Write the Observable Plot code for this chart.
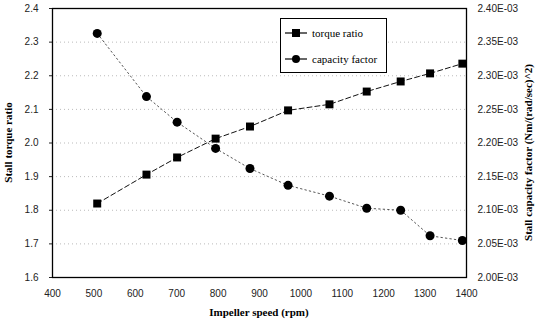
<!DOCTYPE html>
<html>
<head>
<meta charset="utf-8">
<script src="https://cdn.jsdelivr.net/npm/d3@7"></script>
<script src="https://cdn.jsdelivr.net/npm/@observablehq/plot@0.6"></script>
<style>
  html, body { margin: 0; padding: 0; background: #fff; }
  #chart { width: 537px; height: 323px; }
</style>
</head>
<body>
<div id="chart"></div>
<script>
// Data
const rpm = [508, 627, 701, 794, 877, 969, 1069, 1159, 1241, 1312, 1390];
const torqueRatio = [1.820, 1.906, 1.957, 2.013, 2.049, 2.097, 2.115, 2.153, 2.183, 2.207, 2.236];
const capacityFactor = [2.363e-3, 2.269e-3, 2.231e-3, 2.192e-3, 2.162e-3, 2.137e-3, 2.121e-3, 2.103e-3, 2.100e-3, 2.062e-3, 2.055e-3];
const xTicks = [400, 500, 600, 700, 800, 900, 1000, 1100, 1200, 1300, 1400];
const yTicks = [1.6, 1.7, 1.8, 1.9, 2.0, 2.1, 2.2, 2.3, 2.4];
const capTicks = [2.00e-3, 2.05e-3, 2.10e-3, 2.15e-3, 2.20e-3, 2.25e-3, 2.30e-3, 2.35e-3, 2.40e-3];
const seriesNames = ["torque ratio", "capacity factor"];

const W = 537, H = 323;
const mL = 52, mR = 71, mT = 8, mB = 46;

// right axis maps linearly onto left scale: 2.0e-3 -> 1.6, 2.4e-3 -> 2.4
const capToLeft = c => 1.6 + (c - 2.0e-3) / 0.5e-3;

const torque = rpm.map((r, i) => ({rpm: r, v: torqueRatio[i]}));
const cap = rpm.map((r, i) => ({rpm: r, v: capToLeft(capacityFactor[i])}));

const tickFont = "Liberation Sans, Arial, sans-serif";
const titleFont = "Liberation Serif, Times New Roman, serif";

const plot = Plot.plot({
  width: W,
  height: H,
  marginLeft: mL,
  marginRight: mR,
  marginTop: mT,
  marginBottom: mB,
  style: {fontFamily: tickFont, fontSize: "10px", color: "#222", background: "#fff", overflow: "visible"},
  x: {domain: [400, 1400]},
  y: {domain: [1.6, 2.4]},
  marks: [
    Plot.ruleY(yTicks.slice(1, -1), {stroke: "#bbb", strokeDasharray: "1,3", strokeWidth: 1}),
    Plot.axisX({ticks: xTicks, tickSize: 0, tickPadding: 12, tickFormat: d3.format("d"), label: null}),
    Plot.axisY({ticks: yTicks, tickSize: 3, tickPadding: 11, tickFormat: d3.format(".1f"), label: null}),
    Plot.axisY({anchor: "right", ticks: yTicks, tickSize: 0, tickPadding: 11, label: null,
      tickFormat: (d, i) => (capTicks[i] * 1e3).toFixed(2) + "E-03"}),
    Plot.line(torque, {x: "rpm", y: "v", stroke: "#111", strokeWidth: 1, strokeDasharray: "5,3"}),
    Plot.line(cap, {x: "rpm", y: "v", stroke: "#555", strokeWidth: 1, strokeDasharray: "1.5,3"}),
    Plot.dot(torque, {x: "rpm", y: "v", symbol: "square", r: 4.5, fill: "#000", stroke: "none"}),
    Plot.dot(cap, {x: "rpm", y: "v", symbol: "circle", r: 4.5, fill: "#000", stroke: "none"}),
    Plot.frame({stroke: "#000", strokeWidth: 1.3})
  ]
});

document.getElementById("chart").appendChild(plot);

const svg = d3.select(plot);
const plotCX = mL + (W - mL - mR) / 2;
const plotCY = mT + (H - mT - mB) / 2;

// Axis titles
svg.append("text")
  .attr("x", plotCX).attr("y", 316)
  .attr("text-anchor", "middle")
  .attr("font-family", titleFont).attr("font-weight", "bold").attr("font-size", 11)
  .attr("fill", "#000")
  .text("Impeller speed (rpm)");

svg.append("text")
  .attr("transform", `translate(12,${plotCY}) rotate(-90)`)
  .attr("text-anchor", "middle")
  .attr("font-family", titleFont).attr("font-weight", "bold").attr("font-size", 11)
  .attr("fill", "#000")
  .text("Stall torque ratio");

svg.append("text")
  .attr("transform", `translate(532,${plotCY + 10}) rotate(-90)`)
  .attr("text-anchor", "middle")
  .attr("font-family", titleFont).attr("font-weight", "bold").attr("font-size", 11)
  .attr("fill", "#000")
  .text("Stall capacity factor (Nm/(rad/sec)^2)");

// Legend box
const lg = svg.append("g").attr("transform", "translate(280,18)");
lg.append("path")
  .attr("d", "M0.5,0.5H106.5V54.5H0.5Z")
  .attr("fill", "#fff").attr("stroke", "#000").attr("stroke-width", 1.2)
  .attr("shape-rendering", "crispEdges");
seriesNames.forEach((name, i) => {
  const y = 15 + i * 26;
  lg.append("line").attr("x1", 5).attr("x2", 27).attr("y1", y).attr("y2", y)
    .attr("stroke", "#000").attr("stroke-width", 1.2);
  if (i === 0) {
    lg.append("rect").attr("x", 12).attr("y", y - 4).attr("width", 8).attr("height", 8)
      .attr("fill", "#000").attr("stroke", "none");
  } else {
    lg.append("circle").attr("cx", 16).attr("cy", y).attr("r", 4).attr("fill", "#000");
  }
  lg.append("text").attr("x", 32).attr("y", y).attr("dy", "0.35em")
    .attr("text-anchor", "start")
    .attr("font-family", titleFont).attr("font-size", 11).attr("fill", "#000")
    .text(name);
});
</script>
</body>
</html>
